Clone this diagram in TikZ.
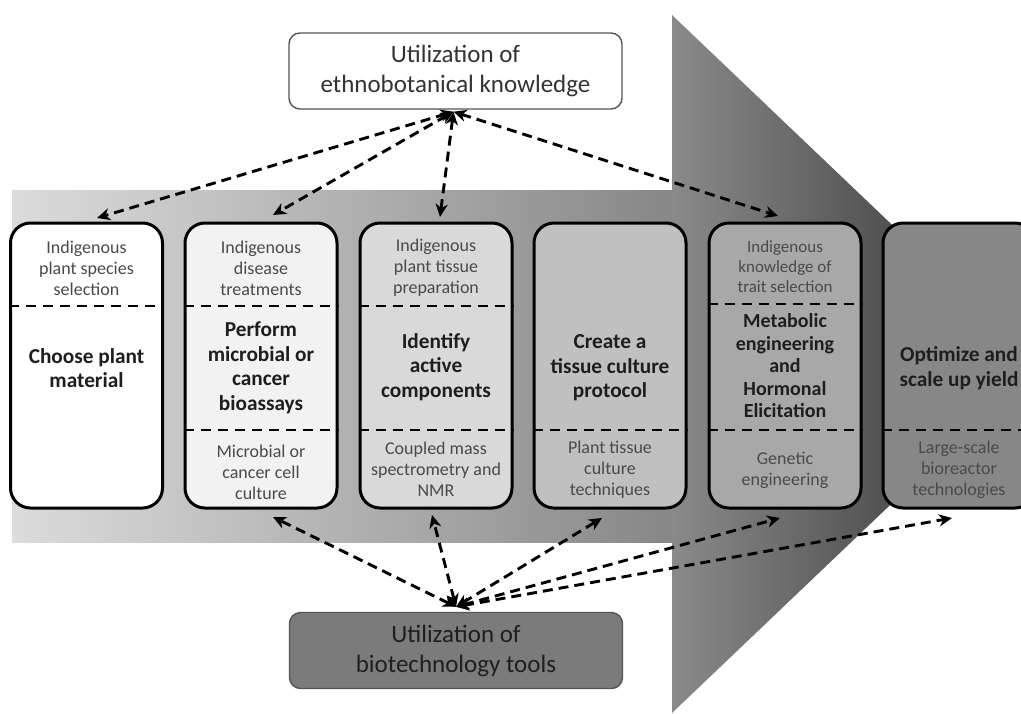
\documentclass[tikz,border=0pt]{standalone}
\usepackage{fontspec}
\setmainfont{Carlito}
\usetikzlibrary{arrows.meta,calc}
\definecolor{smalltxt}{HTML}{4A4A4A}
\definecolor{bigtxt}{HTML}{1E1E1E}
\definecolor{bodyL}{HTML}{DCDCDC}
\definecolor{bodyR}{HTML}{878787}
\definecolor{headL}{HTML}{8A8A8A}
\definecolor{headR}{HTML}{2A2A2A}
\definecolor{fillA}{HTML}{FFFFFF}
\definecolor{fillB}{HTML}{F2F2F2}
\definecolor{fillC}{HTML}{D9D9D9}
\definecolor{fillD}{HTML}{C0C0C0}
\definecolor{fillE}{HTML}{A8A8A8}
\definecolor{fillF}{HTML}{878787}
\definecolor{bioFill}{HTML}{7B7B7B}
\definecolor{utilBorder}{HTML}{555555}
\begin{document}
\begin{tikzpicture}[x=1pt,y=-1pt,
  stage/.style={draw=black, line width=3pt, rounded corners=20pt,
    minimum width=152pt, minimum height=285pt, inner sep=0pt},
  small/.style={font=\fontsize{18}{21}\selectfont, text=smalltxt, align=center, inner sep=0pt},
  big/.style={font=\fontsize{21.3}{24.5}\selectfont\bfseries, text=bigtxt, align=center, inner sep=0pt},
  bigx/.style={font=\fontsize{20}{22.5}\selectfont\bfseries, text=bigtxt, align=center, inner sep=0pt},
  divider/.style={line width=2.8pt, dash pattern=on 10pt off 7pt},
  conn/.style={line width=2.9pt, dash pattern=on 10pt off 6pt,
    {Stealth[length=13pt,width=12pt,inset=4pt]}-{Stealth[length=13pt,width=12pt,inset=4pt]}},
  util/.style={draw=utilBorder, line width=1.4pt, rounded corners=11pt,
    minimum width=333pt, minimum height=76pt, align=center, inner sep=0pt,
    font=\fontsize{25}{30}\selectfont}
]
\useasboundingbox (0,0) rectangle (1021,713);
\clip (0,0) rectangle (1021,713);

% big arrow
\shade[left color=bodyL, right color=bodyR] (12,190) rectangle (672,542);
\shade[left color=headL, right color=headR] (672,15) -- (1038,364) -- (672,713) -- cycle;

% stage boxes
\node[stage, fill=fillA] (box1) at (86.5,365.5) {};
\node[stage, fill=fillB] (box2) at (261,365.5) {};
\node[stage, fill=fillC] (box3) at (436,365.5) {};
\node[stage, fill=fillD] (box4) at (610,365.5) {};
\node[stage, fill=fillE] (box5) at (785,365.5) {};
\node[stage, fill=fillF] (box6) at (959,365.5) {};

% dividers
\draw[divider] (box1.west |- 0,306) -- (box1.east |- 0,306);
\draw[divider] (box2.west |- 0,306) -- (box2.east |- 0,306);
\draw[divider] (box3.west |- 0,306) -- (box3.east |- 0,306);
\draw[divider] (box5.west |- 0,304) -- (box5.east |- 0,304);
\draw[divider] (box2.west |- 0,430) -- (box2.east |- 0,430);
\draw[divider] (box3.west |- 0,430) -- (box3.east |- 0,430);
\draw[divider] (box4.west |- 0,430) -- (box4.east |- 0,430);
\draw[divider] (box5.west |- 0,430) -- (box5.east |- 0,430);
\draw[divider] (box6.west |- 0,430) -- (box6.east |- 0,430);

% texts
\node[small] (t1a) at (86.5,268) {Indigenous\\plant species\\selection};
\node[big]   (t1b) at (86.5,368) {Choose plant\\material};

\node[small] (t2a) at (261,268) {Indigenous\\disease\\treatments};
\node[big]   (t2b) at (261,368) {Perform\\microbial or\\cancer\\bioassays};
\node[small] (t2c) at (261,472) {Microbial or\\cancer cell\\culture};

\node[small] (t3a) at (436,268) {Indigenous\\plant tissue\\preparation};
\node[big]   (t3b) at (436,367) {Identify\\active\\components};
\node[small] (t3c) at (436,469) {Coupled mass\\spectrometry and\\NMR};

\node[big]   (t4b) at (610,368) {Create a\\tissue culture\\protocol};
\node[small] (t4c) at (610,470) {Plant tissue\\culture\\techniques};

\node[small, font=\fontsize{17}{20}\selectfont] (t5a) at (785,267) {Indigenous\\knowledge of\\trait selection};
\node[bigx]  (t5b) at (785,366) {Metabolic\\engineering\\and\\Hormonal\\Elicitation};
\node[small] (t5c) at (785,470) {Genetic\\engineering};

\node[big]   (t6b) at (959,368) {Optimize and\\scale up yield};
\node[small] (t6c) at (959,470) {Large-scale\\bioreactor\\technologies};

% utilization boxes
\node[util, fill=white, text=black!80] (ethno) at (455.5,71) {Utilization of\\ethnobotanical knowledge};
\node[util, fill=bioFill, text=black!88] (bio) at (456,650.5) {Utilization of\\biotechnology tools};

% connector ends
\coordinate (e1) at (97,218);
\coordinate (e2) at (273,215);
\coordinate (e3) at (440,217);
\coordinate (e5) at (778,216);
\coordinate (b2) at (273,517);
\coordinate (b3) at (432,515);
\coordinate (b4) at (602,518);
\coordinate (b5) at (780,518);
\coordinate (b6) at (952,518);
\coordinate (ehub) at ($(ethno.south)+(-2,2)$);
\coordinate (bhub) at ($(bio.north)+(0,-5)$);

\draw[conn] (ehub) -- (e1);
\draw[conn] (ehub) -- (e2);
\draw[conn] (ehub) -- (e3);
\draw[conn] (ehub) -- (e5);
\draw[conn] (bhub) -- (b2);
\draw[conn] (bhub) -- (b3);
\draw[conn] (bhub) -- (b4);
\draw[conn] (bhub) -- (b5);
\draw[conn] (bhub) -- (b6);
\end{tikzpicture}
\end{document}
